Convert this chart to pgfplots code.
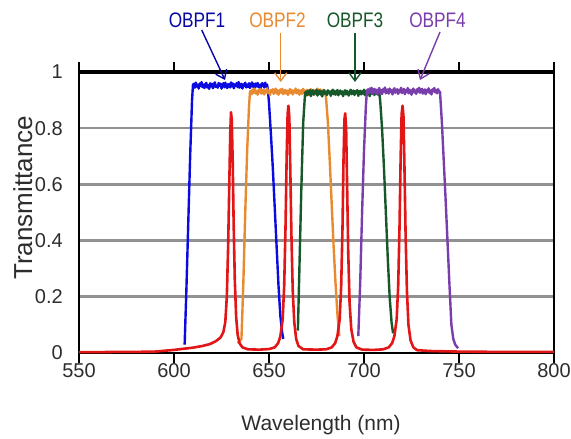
\documentclass[border=0pt]{standalone}
\usepackage{pgfplots}
\pgfplotsset{compat=1.18}
\usepackage{fontspec}
\setmainfont{Liberation Sans}
\usetikzlibrary{arrows.meta}
\definecolor{cblue}{RGB}{10,10,225}
\definecolor{corange}{RGB}{232,138,48}
\definecolor{cgreen}{RGB}{22,88,42}
\definecolor{cpurple}{RGB}{122,62,172}
\definecolor{cred}{RGB}{226,22,22}
\definecolor{cgrid}{RGB}{145,145,145}
\definecolor{ctext}{RGB}{45,45,45}
\begin{document}
\begin{tikzpicture}
\begin{axis}[
  scale only axis, width=475pt, height=281pt,
  xmin=550, xmax=800, ymin=0, ymax=1,
  xtick={550,600,...,800}, ytick={0,0.2,0.4,0.6,0.8,1},
  /pgf/number format/assume math mode=true,
  axis line style={line width=2.6pt, black},
  ymajorgrids, grid style={cgrid, line width=2.6pt},
  xtick align=outside, major tick length=10pt,
  xtick style={black, line width=1.6pt},
  ytick style={draw=none}, ytick align=inside,
  xticklabel style={font=\fontsize{20}{24}\selectfont, text=ctext, inner sep=0pt, anchor=north},
  yticklabel style={font=\fontsize{20}{24}\selectfont, text=ctext, inner sep=0pt, anchor=east, xshift=-16pt},
  xlabel={Wavelength (nm)}, ylabel={Transmittance},
  xlabel style={font=\fontsize{21}{25}\selectfont, text=ctext, at={(axis description cs:0.5095,-0.256)}, anchor=center},
  ylabel style={font=\fontsize{26}{31}\selectfont, text=ctext, at={(axis description cs:-0.118,0.552)}, anchor=center},
  clip=false,
]
% OBPF1
\addplot[cblue, line width=2.4pt, line join=round] coordinates {
(605.6,0.03) (606.5,0.22) (607.5,0.46) (608.5,0.7) (609.5,0.9) (610,0.955)
(610.5,.958) (611,.944) (611.5,.962) (612,.948) (612.5,.954) (613,.941) (613.5,.959) (614,.950) (614.5,.964) (615,.946)
(615.5,.955) (616,.943) (616.5,.957) (617,.961) (617.5,.945) (618,.953) (618.5,.940) (619,.960) (619.5,.949) (620,.958)
(620.5,.942) (621,.956) (621.5,.963) (622,.947) (622.5,.952) (623,.944) (623.5,.961) (624,.951) (624.5,.958) (625,.941)
(625.5,.955) (626,.960) (626.5,.946) (627,.962) (627.5,.948) (628,.943) (628.5,.957) (629,.954) (629.5,.945) (630,.963)
(630.5,.949) (631,.959) (631.5,.942) (632,.956) (632.5,.951) (633,.961) (633.5,.946) (634,.964) (634.5,.944) (635,.954)
(635.5,.958) (636,.941) (636.5,.956) (637,.950) (637.5,.962) (638,.945) (638.5,.955) (639,.947) (639.5,.960) (640,.943)
(640.5,.953) (641,.963) (641.5,.948) (642,.958) (642.5,.942) (643,.959) (643.5,.949) (644,.961) (644.5,.946) (645,.954)
(645.5,.940) (646,.957) (646.5,.960) (647,.951) (647.5,.945) (648,.962) (648.5,.948) (649,.955)
(649.5,.93) (650,.89) (651,.78) (652,.66) (653,.52) (654,.38) (655,.24) (656,.13) (657,.07) (657.5,.05)
};
% OBPF2
\addplot[corange, line width=2.4pt, line join=round] coordinates {
(633.5,0.035) (635.5,0.05) (636.5,0.25) (637.5,0.5) (638.5,0.72) (639.5,0.88) (640,0.93)
(640.5,.933) (641,.921) (641.5,.938) (642,.926) (642.5,.941) (643,.924) (643.5,.932) (644,.919) (644.5,.936) (645,.928)
(645.5,.940) (646,.923) (646.5,.931) (647,.937) (647.5,.920) (648,.934) (648.5,.927) (649,.942) (649.5,.925) (650,.933)
(650.5,.918) (651,.936) (651.5,.929) (652,.939) (652.5,.922) (653,.930) (653.5,.941) (654,.924) (654.5,.935) (655,.919)
(655.5,.932) (656,.938) (656.5,.926) (657,.940) (657.5,.921) (658,.929) (658.5,.936) (659,.923) (659.5,.934) (660,.918)
(660.5,.931) (661,.939) (661.5,.925) (662,.936) (662.5,.920) (663,.933) (663.5,.927) (664,.941) (664.5,.924) (665,.932)
(665.5,.937) (666,.919) (666.5,.930) (667,.935) (667.5,.922) (668,.940) (668.5,.926) (669,.933) (669.5,.921) (670,.937)
(670.5,.928) (671,.918) (671.5,.934) (672,.939) (672.5,.924) (673,.931) (673.5,.936) (674,.920) (674.5,.933) (675,.927)
(675.5,.941) (676,.923) (676.5,.930) (677,.938) (677.5,.921) (678,.934) (678.5,.926) (679,.932) (679.5,.928)
(680,.91) (681,.82) (682,.68) (683,.53) (684,.38) (685,.25) (686,.14) (687,.06)
};
% OBPF3
\addplot[cgreen, line width=2.4pt, line join=round] coordinates {
(665.2,0.08) (666,0.3) (667,0.58) (668,0.82) (669,0.925)
(669.5,.930) (670,.917) (670.5,.933) (671,.921) (671.5,.936) (672,.914) (672.5,.928) (673,.935) (673.5,.919) (674,.931)
(674.5,.923) (675,.937) (675.5,.916) (676,.929) (676.5,.934) (677,.920) (677.5,.932) (678,.913) (678.5,.927) (679,.936)
(679.5,.922) (680,.930) (680.5,.918) (681,.935) (681.5,.925) (682,.931) (682.5,.915) (683,.928) (683.5,.937) (684,.921)
(684.5,.933) (685,.919) (685.5,.926) (686,.936) (686.5,.917) (687,.929) (687.5,.934) (688,.922) (688.5,.931) (689,.914)
(689.5,.928) (690,.935) (690.5,.920) (691,.933) (691.5,.924) (692,.916) (692.5,.930) (693,.937) (693.5,.921) (694,.928)
(694.5,.934) (695,.918) (695.5,.932) (696,.925) (696.5,.936) (697,.915) (697.5,.929) (698,.933) (698.5,.920) (699,.931)
(699.5,.923) (700,.937) (700.5,.917) (701,.928) (701.5,.934) (702,.921) (702.5,.930) (703,.914) (703.5,.927) (704,.935)
(704.5,.922) (705,.931) (705.5,.918) (706,.933) (706.5,.926) (707,.936) (707.5,.920) (708,.927)
(708.5,.9) (709.5,.8) (710.5,.66) (711.5,.5) (712.5,.34) (713.5,.2) (714.5,.11) (715.3,.07)
};
% OBPF4
\addplot[cpurple, line width=2.4pt, line join=round] coordinates {
(697,0.06) (698,0.25) (699,0.5) (700,0.72) (701,0.88) (701.5,0.93)
(702,.938) (702.5,.925) (703,.941) (703.5,.928) (704,.944) (704.5,.922) (705,.935) (705.5,.940) (706,.926) (706.5,.937)
(707,.920) (707.5,.933) (708,.943) (708.5,.927) (709,.936) (709.5,.921) (710,.939) (710.5,.930) (711,.945) (711.5,.924)
(712,.934) (712.5,.938) (713,.923) (713.5,.941) (714,.929) (714.5,.935) (715,.920) (715.5,.937) (716,.942) (716.5,.926)
(717,.933) (717.5,.939) (718,.922) (718.5,.936) (719,.928) (719.5,.944) (720,.925) (720.5,.931) (721,.940) (721.5,.921)
(722,.935) (722.5,.929) (723,.943) (723.5,.924) (724,.937) (724.5,.932) (725,.919) (725.5,.936) (726,.941) (726.5,.927)
(727,.934) (727.5,.922) (728,.939) (728.5,.930) (729,.944) (729.5,.926) (730,.935) (730.5,.940) (731,.923) (731.5,.933)
(732,.938) (732.5,.921) (733,.936) (733.5,.929) (734,.942) (734.5,.925) (735,.934) (735.5,.920) (736,.938) (736.5,.931)
(737,.943) (737.5,.927) (738,.936) (738.5,.924) (739,.939) (739.5,.930) (740,.93)
(741,.82) (742,.68) (743,.54) (744,.39) (745,.24) (746,.1) (747,.05) (748,.03) (749.5,.017)
};
% laser lines
\addplot[cred, line width=2.6pt, line join=round] coordinates {
(550,0.003) (560,0.003) (570,0.004) (580,0.004) (590,0.005) (595,0.008) (600,0.011) (605,0.015) (610,0.019) (615,0.025)
(619,0.032) (622,0.042) (624.5,0.055) (626,0.075) (627,0.11) (627.8,0.2) (628.5,0.38) (629.1,0.6) (629.6,0.78) (630,0.857)
(630.4,0.83) (630.9,0.68) (631.4,0.46) (632,0.26) (632.7,0.13) (633.5,0.065) (634.5,0.035) (636,0.02) (639,0.013) (645,0.012)
(650,0.014) (653,0.02) (654.8,0.035) (656,0.06) (657.2,0.12) (658,0.24) (658.7,0.45) (659.3,0.7) (659.8,0.85) (660.2,0.88)
(660.7,0.84) (661.2,0.66) (661.8,0.42) (662.5,0.22) (663.3,0.11) (664.3,0.05) (665.5,0.025) (668,0.013) (675,0.012) (680,0.013)
(683,0.02) (684.8,0.035) (686,0.06) (687.2,0.12) (688,0.24) (688.7,0.45) (689.2,0.68) (689.7,0.83) (690.1,0.853) (690.6,0.8)
(691.1,0.6) (691.7,0.36) (692.4,0.18) (693.3,0.085) (694.5,0.04) (696,0.02) (699,0.012) (705,0.011) (710,0.013) (713,0.02)
(714.8,0.035) (716,0.06) (717.2,0.12) (718,0.24) (718.7,0.45) (719.3,0.7) (719.8,0.85) (720.3,0.88) (720.8,0.84) (721.3,0.66)
(721.9,0.42) (722.6,0.22) (723.4,0.1) (724.5,0.045) (726,0.02) (728,0.01) (735,0.007) (750,0.005) (770,0.004) (800,0.004)
};
\draw[black, line width=4pt] (rel axis cs:0,1) -- (rel axis cs:1,1);
\end{axis}
% annotations (1pt = 1px of the reference, origin at the axis' lower left corner)
\begin{scope}[font=\fontsize{21}{25}\selectfont]
\node[cblue!75!black] at (118pt,333pt) {\scalebox{0.82}[1]{OBPF1}};
\node[corange] at (198.5pt,333pt) {\scalebox{0.82}[1]{OBPF2}};
\node[cgreen] at (276pt,333pt) {\scalebox{0.82}[1]{OBPF3}};
\node[cpurple] at (358.5pt,333pt) {\scalebox{0.82}[1]{OBPF4}};
\end{scope}
\draw[cblue!75!black, line width=1.4pt, -{Straight Barb[length=8pt,width=12pt]}] (122.7pt,323pt) -- (146pt,273pt);
\draw[corange, line width=1.4pt, -{Straight Barb[length=8pt,width=12pt]}] (201.7pt,320pt) -- (201.7pt,271pt);
\draw[cgreen, line width=1.4pt, -{Straight Barb[length=8pt,width=12pt]}] (276pt,320pt) -- (276pt,271pt);
\draw[cpurple, line width=1.4pt, -{Straight Barb[length=8pt,width=12pt]}] (361pt,321pt) -- (341pt,273pt);
\pgfresetboundingbox
\path[use as bounding box] (-79pt,-86pt) rectangle (492pt,353pt);
\end{tikzpicture}
\end{document}
